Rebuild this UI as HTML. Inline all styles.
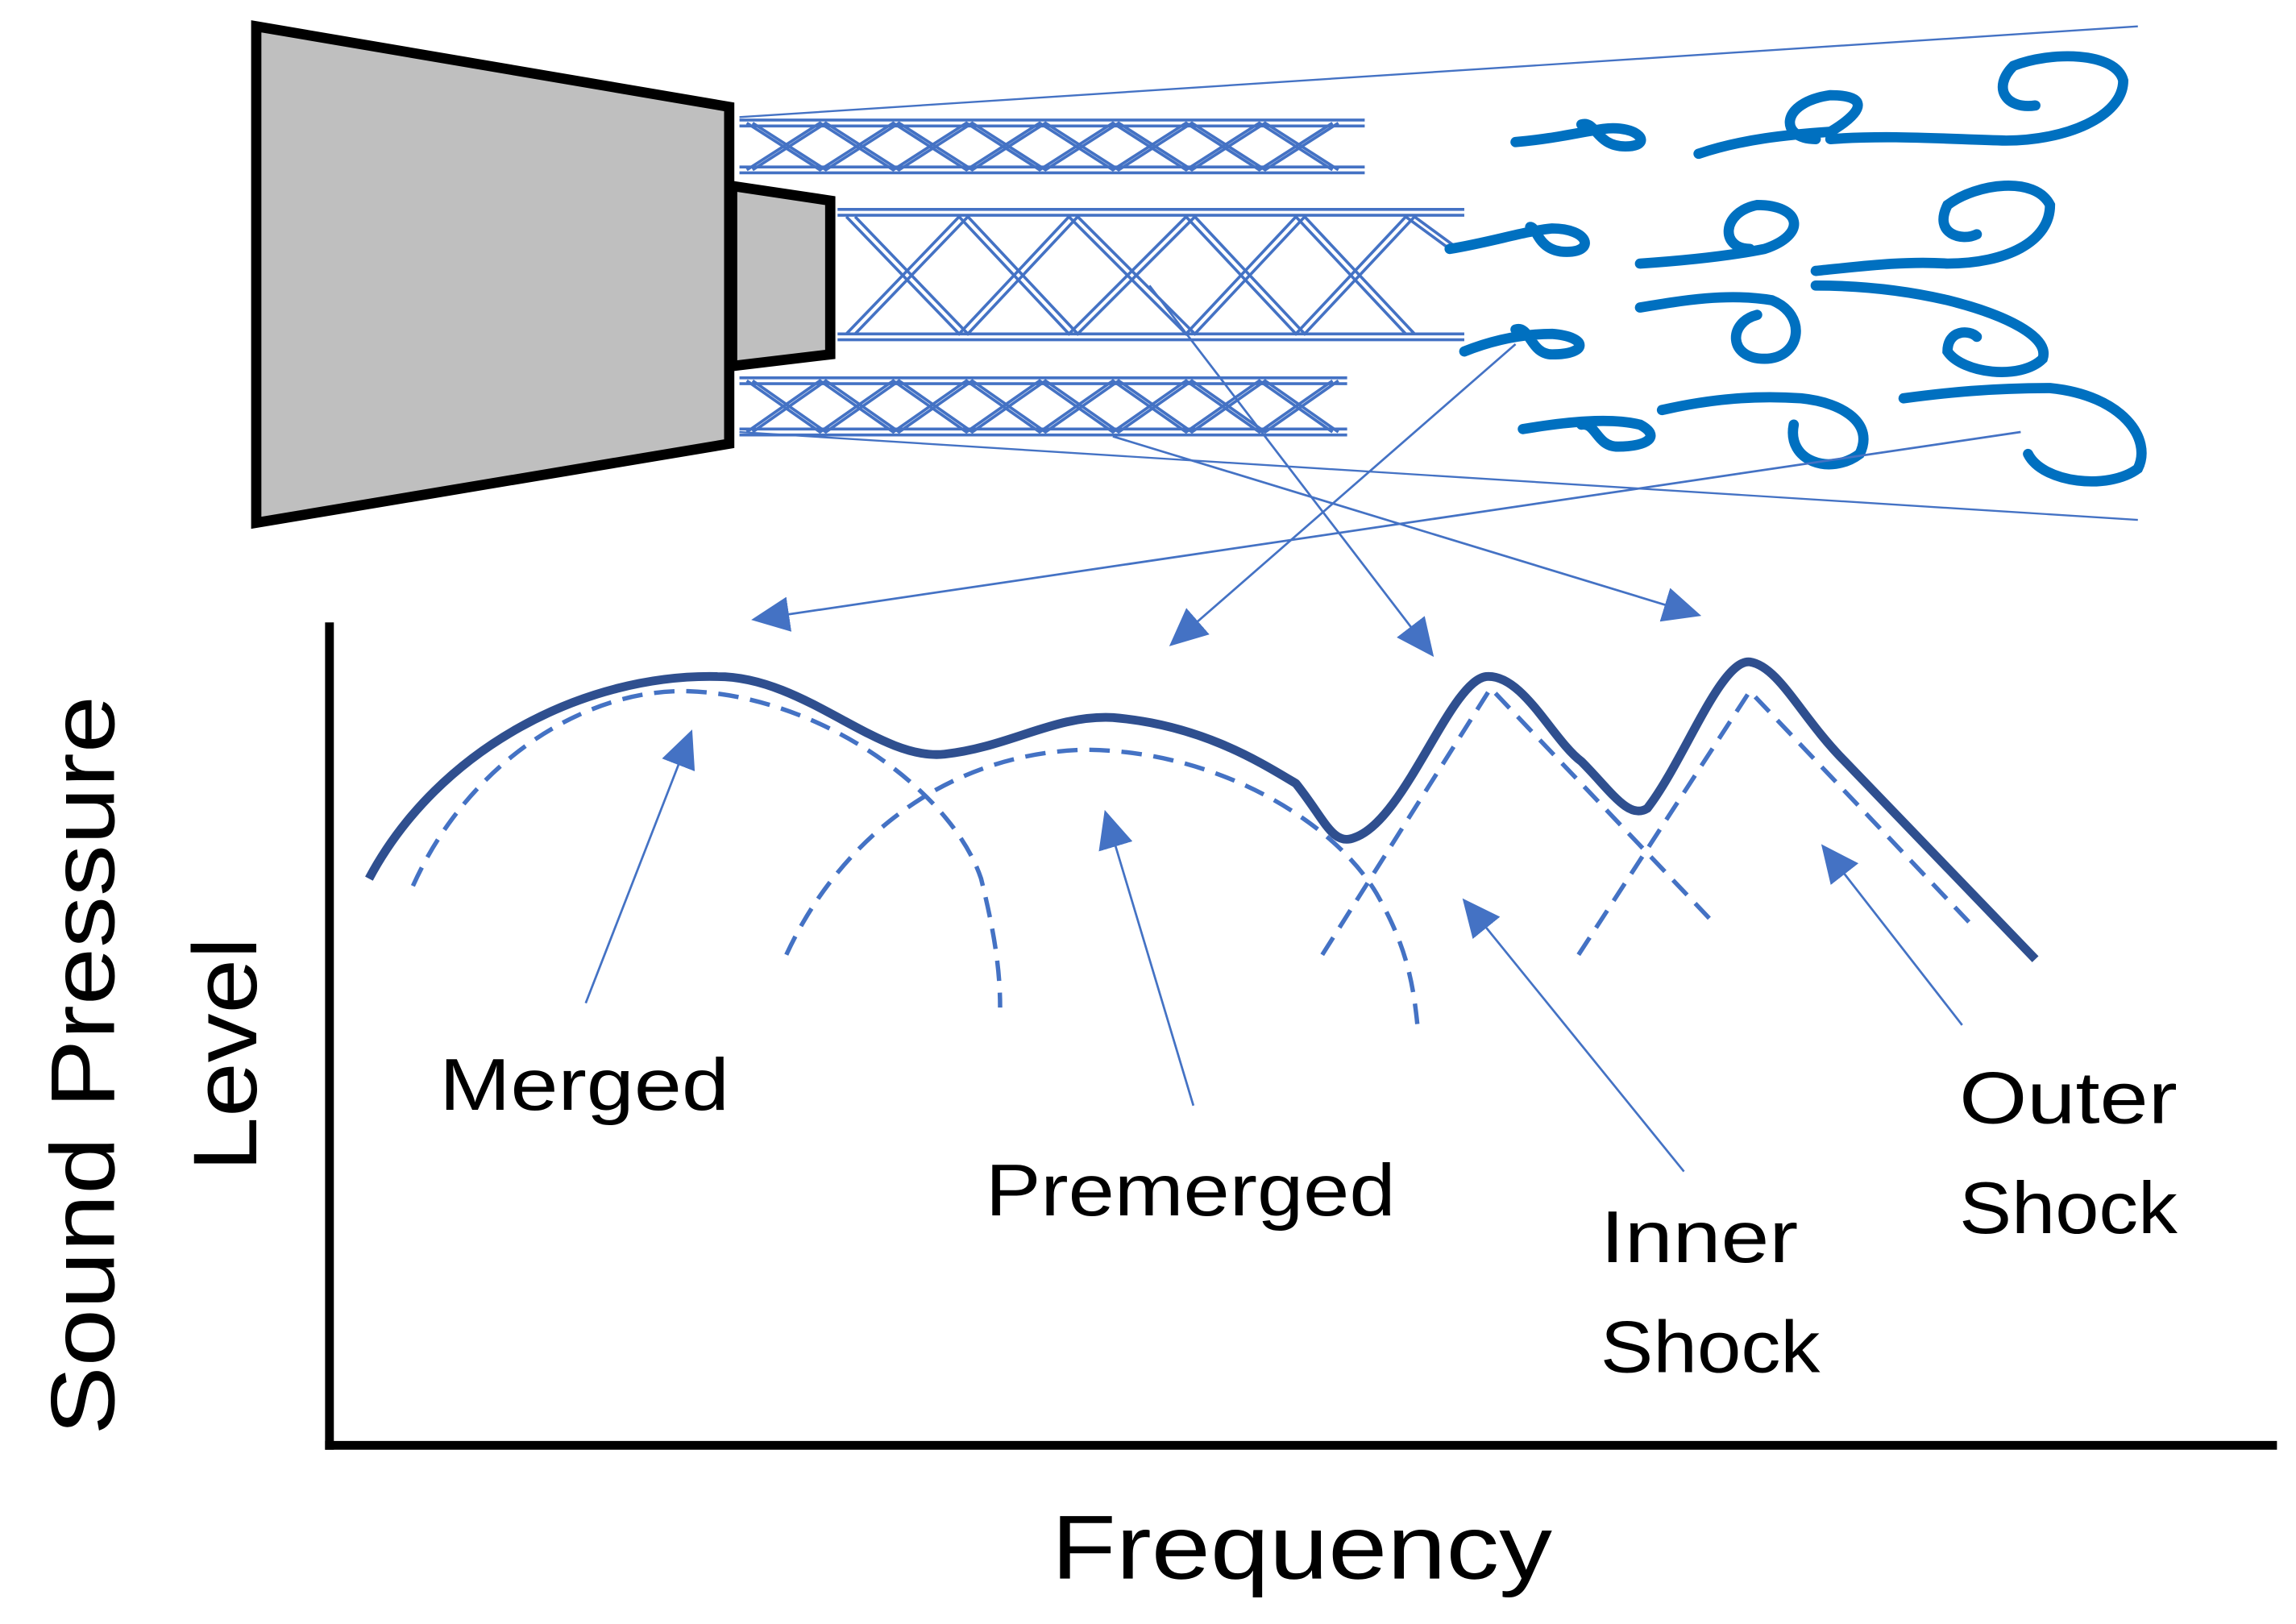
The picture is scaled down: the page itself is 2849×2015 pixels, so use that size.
<!DOCTYPE html>
<html><head><style>html,body{margin:0;padding:0;background:#fff}svg{display:block}</style></head>
<body>
<svg width="2849" height="2015" viewBox="0 0 1568 1109" preserveAspectRatio="none" xmlns="http://www.w3.org/2000/svg">
<defs>
<marker id="ah2" markerWidth="26" markerHeight="24" refX="24" refY="12" orient="auto" markerUnits="userSpaceOnUse">
<path d="M0,0 L26,12 L0,24 z" fill="#4472c4"/></marker>
</defs>
<rect width="1568" height="1109" fill="#fff"/>
<g stroke="#4472c4" stroke-width="1.3" fill="none">
<line x1="505" y1="80" x2="1460" y2="18"/>
<line x1="505" y1="295" x2="1460" y2="355"/>
</g>
<polygon points="175,18 498,73 498,303 175,357" fill="#bfbfbf" stroke="#000" stroke-width="7"/>
<polygon points="500,127 567,137 567,242 500,250" fill="#bfbfbf" stroke="#000" stroke-width="7"/>
<g stroke="#4472c4" stroke-width="2" fill="none">
<line x1="505" y1="82" x2="932" y2="82"/><line x1="505" y1="86" x2="932" y2="86"/>
<line x1="505" y1="114" x2="932" y2="114"/><line x1="505" y1="118" x2="932" y2="118"/>
<path d="M510,84 L560,116 L610,84 L660,116 L710,84 L760,116 L810,84 L860,116 L910,84"/>
<path d="M514,84 L564,116 L614,84 L664,116 L714,84 L764,116 L814,84 L864,116 L914,84"/>
<path d="M510,116 L560,84 L610,116 L660,84 L710,116 L760,84 L810,116 L860,84 L910,116"/>
<path d="M514,116 L564,84 L614,116 L664,84 L714,116 L764,84 L814,116 L864,84 L914,116"/>
<line x1="572" y1="143" x2="1000" y2="143"/><line x1="572" y1="147" x2="1000" y2="147"/>
<line x1="572" y1="228" x2="1000" y2="228"/><line x1="572" y1="232" x2="1000" y2="232"/>
<path d="M578,148 L655,228 L730,148 L810,228 L885,148 L960,228"/>
<path d="M584,148 L661,228 L736,148 L816,228 L891,148 L966,228"/>
<path d="M578,228 L655,148 L730,228 L810,148 L885,228 L960,148 L990,170"/>
<path d="M584,228 L661,148 L736,228 L816,148 L891,228 L966,148 L996,170"/>
<line x1="505" y1="258" x2="920" y2="258"/><line x1="505" y1="262" x2="920" y2="262"/>
<line x1="505" y1="293" x2="920" y2="293"/><line x1="505" y1="297" x2="920" y2="297"/>
<path d="M510,260 L560,295 L610,260 L660,295 L710,260 L760,295 L810,260 L860,295 L910,260"/>
<path d="M514,260 L564,295 L614,260 L664,295 L714,260 L764,295 L814,260 L864,295 L914,260"/>
<path d="M510,295 L560,260 L610,295 L660,260 L710,295 L760,260 L810,295 L860,260 L910,295"/>
<path d="M514,295 L564,260 L614,295 L664,260 L714,295 L764,260 L814,295 L864,260 L914,295"/>
</g>
<g stroke="#0070c0" stroke-width="7" fill="none" stroke-linecap="round">
<path d="M1035,97 C1060,95 1080,90 1095,88 C1120,85 1130,100 1110,100 C1090,100 1090,82 1080,85"/>
<path d="M990,170 C1020,165 1040,158 1060,156 C1085,156 1090,172 1070,172 C1050,172 1050,155 1045,155"/>
<path d="M1000,240 C1020,232 1040,228 1060,228 C1085,230 1085,242 1060,242 C1045,242 1045,222 1035,225"/>
<path d="M1040,293 C1070,288 1100,285 1120,290 C1135,298 1125,305 1105,305 C1090,305 1090,288 1080,290"/>
<path d="M1160,105 C1190,95 1220,92 1250,90 C1275,75 1275,65 1250,65 C1215,70 1215,95 1240,95"/>
<path d="M1120,180 C1150,178 1180,175 1205,170 C1235,160 1230,140 1200,140 C1175,145 1175,170 1195,170"/>
<path d="M1120,210 C1150,205 1180,200 1210,205 C1235,215 1230,245 1205,245 C1180,245 1180,220 1200,215"/>
<path d="M1135,280 C1170,272 1200,270 1230,272 C1260,275 1280,290 1270,310 C1250,325 1220,315 1225,290"/>
<path d="M1250,95 C1290,92 1330,95 1370,96 C1410,96 1450,80 1450,55 C1445,35 1400,35 1375,45 C1360,60 1370,75 1390,72"/>
<path d="M1240,185 C1270,182 1300,178 1330,180 C1370,180 1400,165 1400,140 C1390,120 1350,125 1330,140 C1320,160 1340,165 1350,160"/>
<path d="M1240,195 C1270,195 1300,198 1330,205 C1370,215 1400,230 1395,245 C1380,260 1340,255 1330,240 C1330,225 1345,225 1350,230"/>
<path d="M1300,272 C1330,268 1360,265 1400,265 C1450,270 1470,300 1460,320 C1440,335 1395,330 1385,310"/>
</g>
<g stroke="#4472c4" stroke-width="1.5" fill="none" marker-end="url(#ah2)">
<line x1="1380" y1="295" x2="515" y2="423"/>
<line x1="1035" y1="235" x2="800" y2="440"/>
<line x1="785" y1="195" x2="978" y2="447"/>
<line x1="760" y1="298" x2="1160" y2="420"/>
<line x1="400" y1="685" x2="472" y2="500"/>
<line x1="815" y1="755" x2="755" y2="555"/>
<line x1="1150" y1="800" x2="1000" y2="615"/>
<line x1="1340" y1="700" x2="1245" y2="578"/>
</g>
<g stroke="#000" stroke-width="6" fill="none">
<line x1="225" y1="425" x2="225" y2="990"/>
<line x1="222" y1="987" x2="1555" y2="987"/>
</g>
<g stroke="#4472c4" stroke-width="3" fill="none" stroke-dasharray="14,8">
<path d="M282,605 C320,520 400,470 470,472 C560,475 650,540 670,600 C680,640 683,665 683,688"/>
<path d="M537,652 C570,580 640,515 740,512 C830,512 910,560 940,610 C960,645 965,670 968,700"/>
<path d="M903,652 L1018,470 L1172,632"/>
<path d="M1078,652 L1195,472 L1345,630"/>
</g>
<path d="M252,600 C300,510 400,460 490,462 C550,462 600,520 645,515 C690,510 720,488 760,490 C820,495 860,520 885,535 C905,560 910,578 925,572 C960,560 990,465 1015,462 C1040,460 1060,505 1080,520 C1100,540 1112,560 1125,552 C1150,520 1175,450 1195,452 C1215,455 1230,490 1260,520 L1390,655" stroke="#2f4f8f" stroke-width="6" fill="none" stroke-linejoin="round"/>
<g font-family="Liberation Sans, sans-serif" font-size="50" fill="#000" lengthAdjust="spacingAndGlyphs">
<text x="300" y="758" textLength="198" lengthAdjust="spacingAndGlyphs">Merged</text>
<text x="673" y="830" textLength="280" lengthAdjust="spacingAndGlyphs">Premerged</text>
<text x="1093" y="862" textLength="135" lengthAdjust="spacingAndGlyphs">Inner</text>
<text x="1093" y="937" textLength="150" lengthAdjust="spacingAndGlyphs">Shock</text>
<text x="1338" y="767" textLength="149" lengthAdjust="spacingAndGlyphs">Outer</text>
<text x="1338" y="842" textLength="149" lengthAdjust="spacingAndGlyphs">Shock</text>
<text x="718" y="1078" font-size="62" textLength="342" lengthAdjust="spacingAndGlyphs">Frequency</text>
<text transform="translate(78,980) rotate(-90)" font-size="62" textLength="505" lengthAdjust="spacingAndGlyphs">Sound Pressure</text>
<text transform="translate(175,800) rotate(-90)" font-size="62" textLength="160" lengthAdjust="spacingAndGlyphs">Level</text>
</g>
</svg>
</body></html>
